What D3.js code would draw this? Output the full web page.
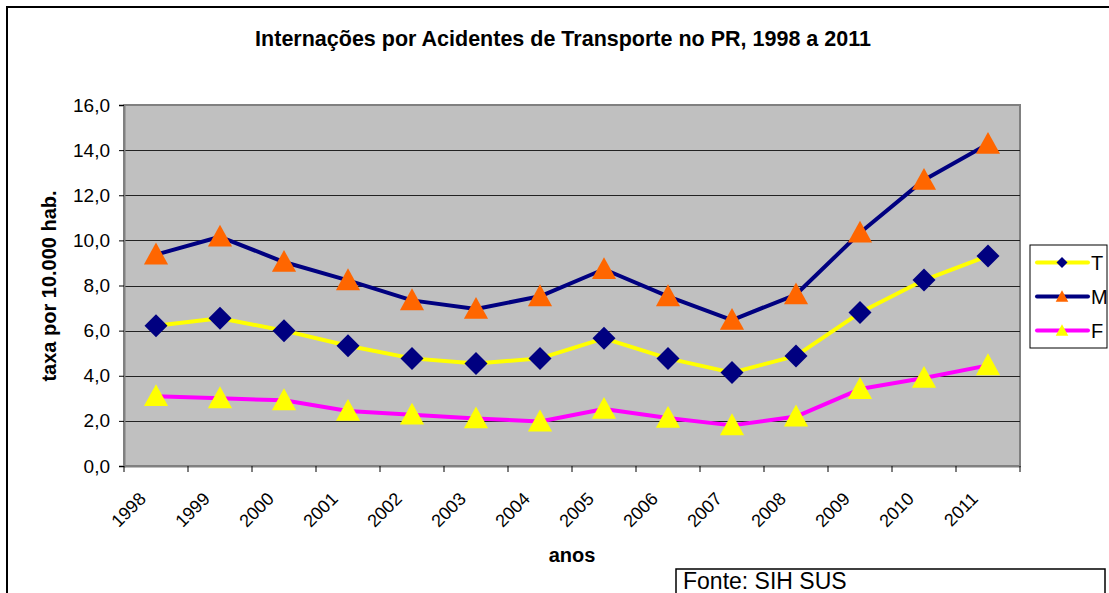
<!DOCTYPE html>
<html>
<head>
<meta charset="utf-8">
<script src="https://cdn.jsdelivr.net/npm/d3@7"></script>
<style>
  body { margin: 0; background: #fff; }
  svg { display: block; }
  text { font-family: "Liberation Sans", Arial, sans-serif; }
</style>
</head>
<body>
<svg id="chart" width="1109" height="593"></svg>
<script>
// data
const anos = ["1998", "1999", "2000", "2001", "2002", "2003", "2004", "2005", "2006", "2007", "2008", "2009", "2010", "2011"];
const serieT = [6.22, 6.55, 6.0, 5.33, 4.77, 4.54, 4.77, 5.66, 4.77, 4.14, 4.88, 6.8, 8.24, 9.31];
const serieM = [9.37, 10.16, 9.04, 8.23, 7.34, 6.96, 7.52, 8.72, 7.52, 6.47, 7.6, 10.34, 12.68, 14.27];
const serieF = [3.09, 3.0, 2.91, 2.44, 2.27, 2.11, 1.97, 2.53, 2.13, 1.8, 2.19, 3.41, 3.9, 4.46];
const yTicks = [0, 2, 4, 6, 8, 10, 12, 14, 16];

const series = [
  { name: "T", values: serieT, line: "#FFFF00", marker: "diamond", fill: "#000080" },
  { name: "M", values: serieM, line: "#000080", marker: "triangle", fill: "#FF6600" },
  { name: "F", values: serieF, line: "#FF00FF", marker: "triangle", fill: "#FFFF00" }
];

const svg = d3.select("#chart");
const pLeft = 124, pRight = 1020, pTop = 105, pBottom = 466;

// outer frame (runs past the window on right and bottom)
svg.append("rect")
  .attr("x", 7).attr("y", 7).attr("width", 1140).attr("height", 640)
  .attr("fill", "none").attr("stroke", "#000").attr("stroke-width", 2);

svg.append("text")
  .attr("x", 563).attr("y", 46)
  .attr("text-anchor", "middle")
  .attr("font-size", 21.5).attr("font-weight", "bold")
  .text("Internações por Acidentes de Transporte no PR, 1998 a 2011");

const x = d3.scaleBand().domain(anos).range([pLeft, pRight]).padding(0);
const y = d3.scaleLinear().domain([0, 16]).range([pBottom, pTop]);
const fmt = v => d3.format(".1f")(v).replace(".", ",");

// plot area
svg.append("rect")
  .attr("x", pLeft).attr("y", pTop).attr("width", pRight - pLeft).attr("height", pBottom - pTop)
  .attr("fill", "#C0C0C0").attr("stroke", "#808080").attr("stroke-width", 2);

// gridlines
svg.append("g")
  .selectAll("line")
  .data(yTicks.filter(d => d > 0 && d < 16))
  .join("line")
  .attr("x1", pLeft).attr("x2", pRight)
  .attr("y1", d => Math.round(y(d)) + 0.5).attr("y2", d => Math.round(y(d)) + 0.5)
  .attr("stroke", "#222").attr("stroke-width", 1);

// y axis
const yAxis = svg.append("g")
  .attr("transform", `translate(${pLeft},0)`)
  .call(d3.axisLeft(y).tickValues(yTicks).tickFormat(fmt).tickSize(5).tickPadding(9));
yAxis.select(".domain").attr("stroke", "#808080").attr("stroke-width", 2);
yAxis.selectAll(".tick line").attr("stroke", "#000");
yAxis.selectAll(".tick text").attr("font-size", 19).attr("fill", "#000")
  .attr("font-family", "Liberation Sans, Arial, sans-serif");

// x axis: ticks between categories
const xAxis = svg.append("g")
  .attr("transform", `translate(0,${pBottom})`)
  .call(d3.axisBottom(x).tickSize(0).tickFormat(""));
xAxis.select(".domain").attr("stroke", "#808080").attr("stroke-width", 2);
xAxis.selectAll("line.sep")
  .data(anos.concat(["end"]))
  .join("line")
  .attr("class", "sep")
  .attr("x1", (d, i) => pLeft + i * x.bandwidth()).attr("x2", (d, i) => pLeft + i * x.bandwidth())
  .attr("y1", 0).attr("y2", 6)
  .attr("stroke", "#000");

svg.append("g")
  .selectAll("text")
  .data(anos)
  .join("text")
  .attr("transform", d => `translate(${x(d) + x.bandwidth() / 2 - 9},${pBottom + 34}) rotate(-45)`)
  .attr("text-anchor", "end")
  .attr("font-size", 18)
  .text(d => d);

svg.append("text")
  .attr("x", 572).attr("y", 562)
  .attr("text-anchor", "middle")
  .attr("font-size", 20).attr("font-weight", "bold")
  .text("anos");

svg.append("text")
  .attr("transform", "translate(56,286) rotate(-90)")
  .attr("text-anchor", "middle")
  .attr("font-size", 20).attr("font-weight", "bold")
  .text("taxa por 10.000 hab.");

// series
const cx = i => x(anos[i]) + x.bandwidth() / 2;
const line = d3.line().x((d, i) => cx(i)).y(d => y(d));

function markerPath(type, s) {
  if (type === "diamond") {
    return `M0,${-s}L${s},0L0,${s}L${-s},0Z`;
  }
  const h = s * 1.9, w = s * 1.05;
  return `M0,${-h * 0.55}L${w},${h * 0.45}L${-w},${h * 0.45}Z`;
}

series.forEach(s => {
  const g = svg.append("g");
  g.append("path")
    .attr("d", line(s.values))
    .attr("fill", "none").attr("stroke", s.line).attr("stroke-width", 4)
    .attr("stroke-linejoin", "round");
  g.selectAll("path.mk")
    .data(s.values)
    .join("path")
    .attr("class", "mk")
    .attr("transform", (d, i) => `translate(${cx(i)},${y(d)})`)
    .attr("d", markerPath(s.marker, 11.5))
    .attr("fill", s.fill);
});

// legend
const lg = svg.append("g").attr("transform", "translate(1030,245)");
lg.append("rect")
  .attr("width", 77).attr("height", 103)
  .attr("fill", "#fff").attr("stroke", "#000").attr("stroke-width", 1);
series.forEach((s, i) => {
  const yy = 17.5 + i * 34;
  lg.append("line")
    .attr("x1", 7).attr("x2", 58).attr("y1", yy).attr("y2", yy)
    .attr("stroke", s.line).attr("stroke-width", 4).attr("stroke-linecap", "round");
  lg.append("path")
    .attr("transform", `translate(32,${yy})`)
    .attr("d", markerPath(s.marker, s.marker === "diamond" ? 5.5 : 6))
    .attr("fill", s.fill);
  lg.append("text")
    .attr("x", 61).attr("y", yy + 7.5)
    .attr("font-size", 20)
    .text(s.name);
});

// source box
svg.append("rect")
  .attr("x", 676).attr("y", 569).attr("width", 429).attr("height", 40)
  .attr("fill", "#fff").attr("stroke", "#000").attr("stroke-width", 1.5);
svg.append("text")
  .attr("x", 683).attr("y", 589)
  .attr("font-size", 23)
  .attr("font-family", "Lato, Open Sans, sans-serif")
  .text("Fonte: SIH SUS");
</script>
</body>
</html>
